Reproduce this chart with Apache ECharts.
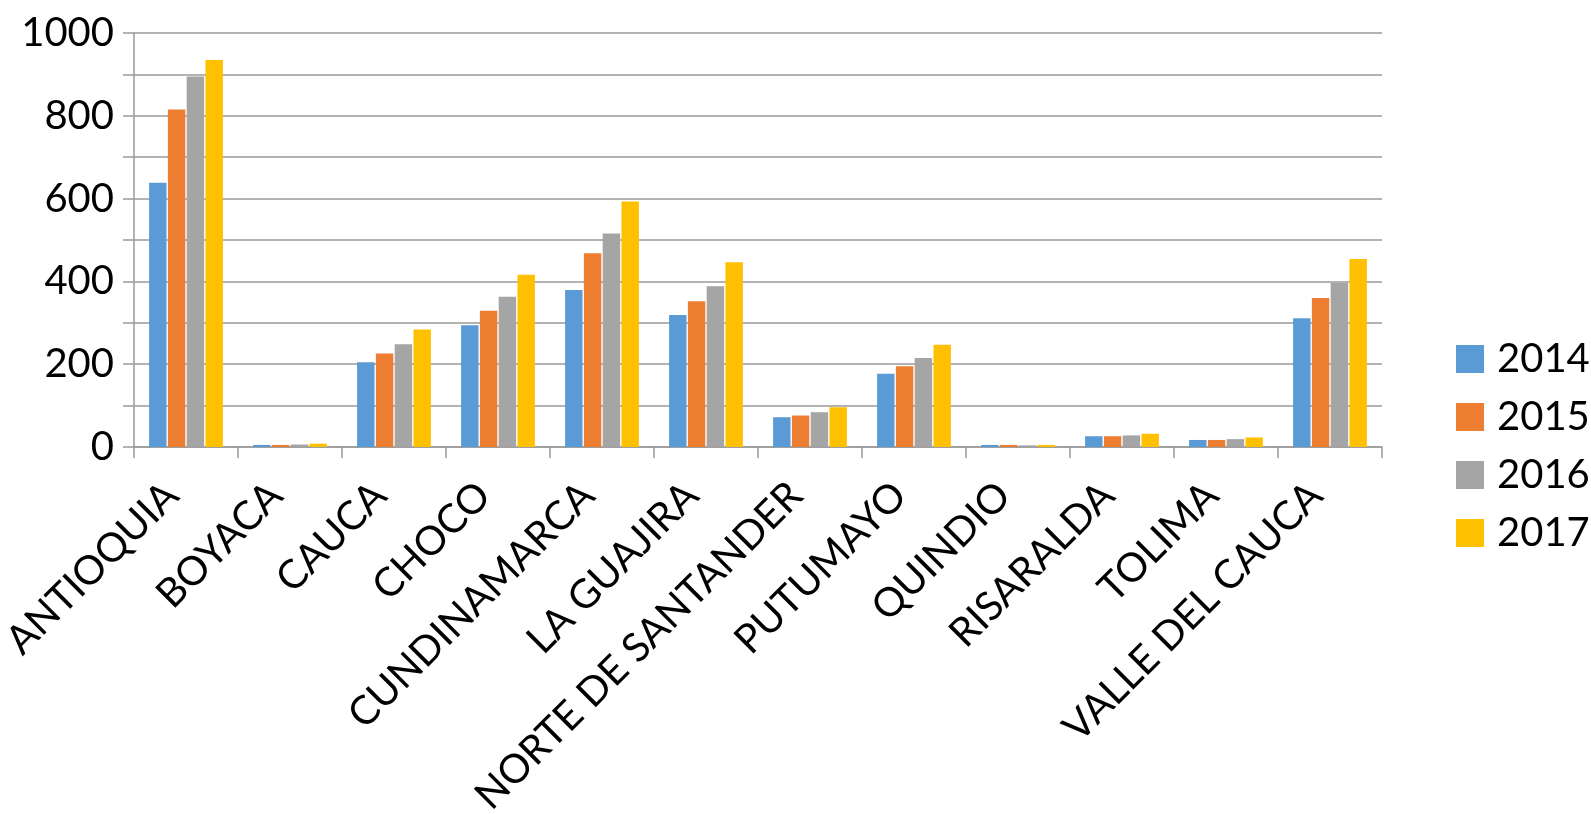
<!DOCTYPE html>
<html>
<head>
<meta charset="utf-8">
<script src="https://cdn.jsdelivr.net/npm/echarts@6/dist/echarts.min.js"></script>
<style>
html,body{margin:0;padding:0;background:#fff;}
#chart{width:1591px;height:814px;}
</style>
</head>
<body>
<div id="chart"></div>
<script>
var categories = ['ANTIOQUIA','BOYACA','CAUCA','CHOCO','CUNDINAMARCA','LA GUAJIRA','NORTE DE SANTANDER','PUTUMAYO','QUINDIO','RISARALDA','TOLIMA','VALLE DEL CAUCA'];
var seriesNames = ['2014','2015','2016','2017'];
var v2014 = [638, 5, 205, 294, 379, 319, 72, 177, 5, 26, 17, 311];
var v2015 = [815, 5, 226, 329, 468, 352, 76, 195, 5, 26, 17, 360];
var v2016 = [895, 6, 248, 363, 516, 388, 84, 215, 4, 28, 19, 396];
var v2017 = [935, 8, 284, 416, 593, 446, 96, 247, 5, 32, 23, 454];
var yTicks = [0, 200, 400, 600, 800, 1000];

var colors = ['#5B9BD5','#ED7D31','#A5A5A5','#FFC000'];
var values = [v2014, v2015, v2016, v2017];
var FONT = 'Lato';
var lineColor = '#9a9a9a';

var chart = echarts.init(document.getElementById('chart'));
chart.setOption({
  animation: false,
  color: colors,
  textStyle: {fontFamily: FONT},
  grid: {left: 134, right: 209, top: 33, bottom: 367, containLabel: false, outerBoundsMode: 'none'},
  legend: {
    orient: 'vertical',
    left: 1451,
    top: 334,
    itemWidth: 28,
    itemHeight: 28,
    itemGap: 18,
    icon: 'rect',
    textStyle: {fontFamily: FONT, fontSize: 40, color: '#000', lineHeight: 40, padding: [0,0,0,8]},
    data: seriesNames
  },
  xAxis: {
    type: 'category',
    data: categories,
    boundaryGap: true,
    axisLine: {show: true, lineStyle: {color: lineColor, width: 1.5}},
    axisTick: {show: true, length: 11, alignWithLabel: false, lineStyle: {color: lineColor, width: 1.5}},
    axisLabel: {rotate: 45, interval: 0, margin: 56, verticalAlign: 'bottom', fontFamily: FONT, fontSize: 40, color: '#000'}
  },
  yAxis: {
    type: 'value',
    min: 0,
    max: 1000,
    interval: 100,
    axisLine: {show: true, lineStyle: {color: lineColor, width: 1.5}},
    axisTick: {show: true, length: 11, inside: false, lineStyle: {color: lineColor, width: 1.5}},
    splitLine: {show: true, lineStyle: {color: lineColor, width: 1.5}},
    axisLabel: {
      margin: 20,
      fontFamily: FONT, fontSize: 40, color: '#000',
      formatter: function (v) { return yTicks.indexOf(v) >= 0 ? String(v) : ''; }
    }
  },
  series: seriesNames.map(function (name, i) {
    return {
      name: name,
      type: 'bar',
      data: values[i],
      barGap: '8%',
      barCategoryGap: '29%',
      itemStyle: {color: colors[i]}
    };
  })
});
</script>
</body>
</html>
